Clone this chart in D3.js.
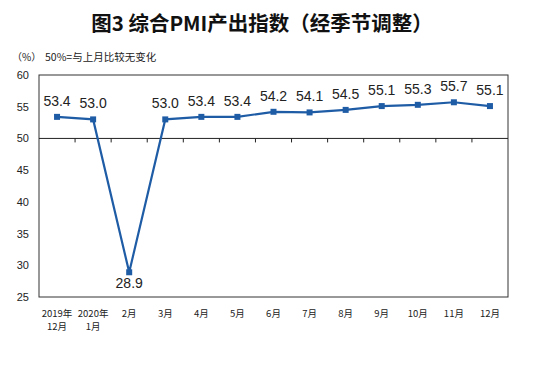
<!DOCTYPE html>
<html><head><meta charset="utf-8">
<script src="https://cdn.jsdelivr.net/npm/d3@7/dist/d3.min.js"></script>
<style>body{margin:0;background:#fff}svg{display:block}</style>
</head><body><svg id="c" width="533" height="365"></svg>
<script>
const categories = ["2019年|12月","2020年|1月","2月","3月","4月","5月","6月","7月","8月","9月","10月","11月","12月"];
const values = [53.4,53.0,28.9,53.0,53.4,53.4,54.2,54.1,54.5,55.1,55.3,55.7,55.1];
const yTicks = [25,30,35,40,45,50,55,60];
const title = "图3 综合PMI产出指数（经季节调整）";
const unitLabel = "（%）";
const note = "50%=与上月比较无变化";

(function () {
const svg = d3.select("#c");
const mL = 39, mR = 508, mT = 75, mB = 297;
const x = d3.scaleBand().domain(categories).range([mL, mR]);
const y = d3.scaleLinear().domain([25, 60]).range([mB, mT]);
const color = "#1f5ca6";
const cn = "'Noto Sans CJK SC', sans-serif";
const num = "'Liberation Sans', Arial, sans-serif";

svg.append("text").attr("x", 262).attr("y", 31).attr("text-anchor", "middle")
  .attr("font-family", cn).attr("font-weight", "bold").attr("font-size", 20.5).attr("fill", "#111").text(title);
svg.append("text").attr("x", 12).attr("y", 61).attr("font-family", cn).attr("font-size", 10).attr("fill", "#222").text(unitLabel);
svg.append("text").attr("x", 45).attr("y", 61).attr("font-family", cn).attr("font-size", 10.5).attr("fill", "#222").text(note);

svg.append("rect").attr("x", mL).attr("y", mT).attr("width", mR - mL).attr("height", mB - mT)
  .attr("fill", "none").attr("stroke", "#333").attr("stroke-width", 1);

const yAxis = svg.append("g").attr("transform", `translate(${mL},0)`)
  .call(d3.axisLeft(y).tickValues(yTicks).tickSize(0).tickPadding(10));
yAxis.select(".domain").remove();
yAxis.selectAll("text").attr("font-family", num).attr("font-size", 11).attr("fill", "#222");

const xAxisG = svg.append("g").attr("transform", `translate(0,${y(50)})`);
xAxisG.append("line").attr("x1", mL).attr("x2", mR).attr("stroke", "#222").attr("stroke-width", 1);
xAxisG.selectAll("line.tk").data(categories.slice(1)).join("line").attr("class", "tk")
  .attr("x1", d => x(d)).attr("x2", d => x(d)).attr("y1", 0).attr("y2", 4).attr("stroke", "#222");

const xl = svg.append("g");
categories.forEach(c => {
  c.split("|").forEach((p, i) => {
    xl.append("text").attr("x", x(c) + x.bandwidth() / 2).attr("y", 317 + i * 13)
      .attr("text-anchor", "middle").attr("font-family", cn).attr("font-size", 9.5).attr("fill", "#222").text(p);
  });
});

const line = d3.line().x((d, i) => x(categories[i]) + x.bandwidth() / 2).y(d => y(d));
svg.append("path").datum(values).attr("d", line).attr("fill", "none").attr("stroke", color).attr("stroke-width", 2.2);
svg.selectAll("rect.m").data(values).join("rect").attr("class", "m")
  .attr("x", (d, i) => x(categories[i]) + x.bandwidth() / 2 - 3).attr("y", d => y(d) - 3)
  .attr("width", 6).attr("height", 6).attr("fill", color);

svg.selectAll("text.v").data(values).join("text").attr("class", "v")
  .attr("x", (d, i) => x(categories[i]) + x.bandwidth() / 2)
  .attr("y", d => d < 50 ? y(d) + 16 : y(d) - 11)
  .attr("text-anchor", "middle").attr("font-family", num).attr("font-size", 14).attr("fill", "#222")
  .text(d => d.toFixed(1));
})();
</script></body></html>
